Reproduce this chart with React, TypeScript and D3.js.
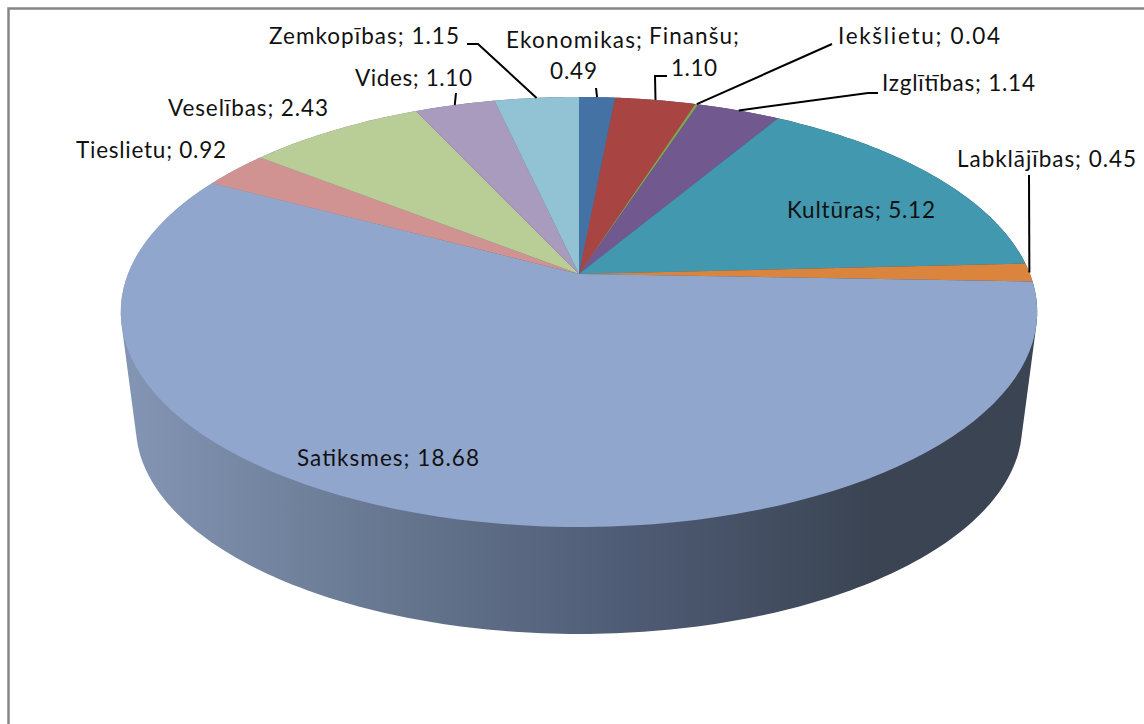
import React from "react";
import * as d3 from "d3";

const ministries = ["Ekonomikas", "Finanšu", "Iekšlietu", "Izglītības", "Kultūras", "Labklājības", "Satiksmes", "Tieslietu", "Veselības", "Vides", "Zemkopības"];
const amounts = [0.49, 1.1, 0.04, 1.14, 5.12, 0.45, 18.68, 0.92, 2.43, 1.1, 1.15];
const sliceColors = ["#4572a5", "#a84543", "#87a44d", "#71588f", "#4198af", "#db843d", "#91a6cd", "#d19392", "#b9cd96", "#a99bbd", "#91c3d5"];

const width = 1144;
const height = 724;
const cx = 579;
const cy = 274;

// perspective of the disc: the front half comes out bigger than the back half
const persp = 0.1767;
const scaleX = 451;
const scaleY = 208.3;
const sideDrop = 115.3;
const sideScale = 0.967;

const project = (a: number, drop = 0, s = 1): [number, number] => {
  const u = Math.sin(a);
  const v = -Math.cos(a);
  const w = 1 - persp * v;
  return [cx + (s * scaleX * u) / w, cy + drop + (s * scaleY * v) / w];
};

const arcs = d3.pie<number>().sort(null)(amounts);

const sample = (a0: number, a1: number) => d3.range(0, 1.0001, 1 / 90).map((t) => project(a0 + (a1 - a0) * t));

const line = d3.line();

const slicePath = (a0: number, a1: number) => line([[cx, cy], ...sample(a0, a1)]) + "Z";

const fullCircle = d3.range(0, 360).map((d) => (d * Math.PI) / 180);
const sideHull = d3.polygonHull([
  ...fullCircle.map((a) => project(a)),
  ...fullCircle.map((a) => project(a, sideDrop, sideScale)),
]) as [number, number][];

// text placement: label lines as [text, left x, baseline, width], plus leader bends
const labelLayout = [
  { lines: [["Ekonomikas;", 506, 48, 136], ["0.49", 550, 79, 47]], bends: [[596, 88]] },
  { lines: [["Finanšu;", 649, 44, 90], ["1.10", 671, 76, 46]], bends: [[667, 76], [655, 76]] },
  { lines: [["Iekšlietu; 0.04", 838, 44, 162]], bends: [[832, 44]] },
  { lines: [["Izglītības; 1.14", 882, 91, 153]], bends: [[878, 93], [868, 93]] },
  { lines: [["Kultūras; 5.12", 787, 218, 148]], bends: [] },
  { lines: [["Labklājības; 0.45", 957, 167, 179]], bends: [[1029, 175]] },
  { lines: [["Satiksmes; 18.68", 297, 466, 182]], bends: [] },
  { lines: [["Tieslietu; 0.92", 76, 158, 150]], bends: [] },
  { lines: [["Veselības; 2.43", 168, 116, 160]], bends: [] },
  { lines: [["Vides; 1.10", 355, 86, 117]], bends: [[456, 93]] },
  { lines: [["Zemkopības; 1.15", 269, 44, 190]], bends: [[467, 44], [478, 44]] },
];

const App = () => {
  return (
    <svg
      width={width}
      height={height}
      style={{ position: "absolute", left: 0, top: 0, background: "#fff" }}
      fontFamily="Lato, Carlito, sans-serif"
      fontSize={22.5}
      fill="#111"
    >
      <defs>
        <linearGradient id="side" gradientUnits="userSpaceOnUse" x1={120} x2={1037} y1={0} y2={0}>
          <stop offset="0" stopColor="#8496b5" />
          <stop offset="0.3" stopColor="#66768f" />
          <stop offset="0.55" stopColor="#4f5c75" />
          <stop offset="0.82" stopColor="#3a4453" />
          <stop offset="1" stopColor="#3b4453" />
        </linearGradient>
      </defs>

      <path d={`M${width},8.5H8.5V${height}`} fill="none" stroke="#868686" strokeWidth={2.5} />

      <path d={line(sideHull) + "Z"} fill="url(#side)" />

      {arcs.map((d, i) => (
        <path key={ministries[i]} d={slicePath(d.startAngle, d.endAngle)} fill={sliceColors[i]} />
      ))}

      {labelLayout.map((l, i) => {
        if (!l.bends.length) return null;
        const mid = (arcs[i].startAngle + arcs[i].endAngle) / 2;
        return (
          <path
            key={ministries[i]}
            d={line([...(l.bends as [number, number][]), project(mid)]) as string}
            fill="none"
            stroke="#000"
            strokeWidth={2}
          />
        );
      })}

      {labelLayout.map((l) =>
        l.lines.map(([text, x, y, w]) => (
          <text key={text as string} x={x as number} y={y as number} textLength={w as number}>
            {text}
          </text>
        ))
      )}
    </svg>
  );
};

export default App;
